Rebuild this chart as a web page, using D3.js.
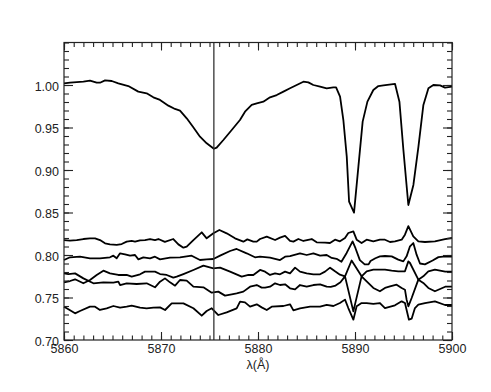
<!DOCTYPE html>
<html>
<head>
<meta charset="utf-8">
<script src="https://cdn.jsdelivr.net/npm/d3@7"></script>
<style>
  body { margin: 0; background: #fff; }
  svg { display: block; }
</style>
</head>
<body>
<svg id="specSVG" width="491" height="392"></svg>
<script>
// tick labels
const xTicks = [5860, 5870, 5880, 5890, 5900];
const yTicks = [0.70, 0.75, 0.80, 0.85, 0.90, 0.95, 1.00];
const xLabel = "λ(Å)";
const markLambda = 5875.45;

// mean spectrum (top)
const topSpec = [
  [5860.0, 1.002], [5860.62, 1.0027], [5861.31, 1.0035], [5862.0, 1.0039], [5862.68, 1.0051],
  [5863.37, 1.0027], [5863.71, 1.0027], [5864.23, 1.0055], [5864.92, 1.0047], [5865.6, 1.002],
  [5866.63, 0.9988], [5867.66, 0.9922], [5868.52, 0.9902], [5869.21, 0.9855], [5869.9, 0.9824],
  [5870.76, 0.9757], [5871.44, 0.9718], [5871.96, 0.9698], [5872.65, 0.9608], [5873.33, 0.9502],
  [5874.02, 0.9392], [5874.71, 0.9314], [5875.45, 0.925], [5875.74, 0.9263], [5876.43, 0.9353],
  [5877.29, 0.9471], [5878.14, 0.9588], [5878.66, 0.9686], [5879.35, 0.9765], [5879.87, 0.9784],
  [5880.55, 0.9804], [5881.24, 0.9855], [5881.93, 0.9882], [5882.62, 0.9922], [5883.3, 0.9961],
  [5883.99, 1.0], [5884.68, 1.0039], [5885.19, 1.0031], [5885.71, 1.0], [5886.4, 0.998],
  [5887.08, 0.9961], [5887.77, 0.9973], [5888.05, 0.9973], [5888.46, 0.9863], [5888.8, 0.9588],
  [5889.15, 0.9157], [5889.39, 0.8627], [5889.9, 0.8498], [5890.35, 0.9039], [5890.79, 0.9569],
  [5891.28, 0.9804], [5891.89, 0.9941], [5892.41, 0.9988], [5892.93, 0.9996], [5894.13, 1.0012],
  [5894.58, 0.9804], [5894.99, 0.9235], [5895.5, 0.8588], [5896.02, 0.8824], [5896.54, 0.9275],
  [5897.05, 0.9765], [5897.57, 0.9961], [5898.08, 1.0], [5898.77, 0.9996], [5899.28, 0.9969],
  [5900.0, 0.998]
];

// offset spectra (bottom group)
const specA = [
  [5860.0, 0.8176], [5860.62, 0.8169], [5861.31, 0.8176], [5862.0, 0.8188], [5862.68, 0.8196],
  [5863.2, 0.8196], [5863.71, 0.8176], [5864.23, 0.8137], [5864.74, 0.8125], [5865.43, 0.8118],
  [5865.95, 0.8129], [5866.46, 0.8157], [5866.98, 0.8165], [5867.32, 0.8157], [5867.84, 0.8172],
  [5868.35, 0.8176], [5868.87, 0.8188], [5869.38, 0.8176], [5869.73, 0.8188], [5870.4, 0.8155],
  [5871.27, 0.8188], [5871.79, 0.8125], [5872.31, 0.8086], [5872.65, 0.8098], [5873.34, 0.8176],
  [5874.2, 0.8267], [5874.71, 0.8196], [5875.4, 0.8255], [5876.02, 0.8294], [5876.77, 0.8255],
  [5877.63, 0.8196], [5878.49, 0.8157], [5878.9, 0.8184], [5879.52, 0.8157], [5879.87, 0.8157],
  [5880.21, 0.8188], [5880.9, 0.8216], [5881.76, 0.8176], [5882.27, 0.8204], [5882.79, 0.8224],
  [5883.3, 0.8165], [5883.65, 0.8157], [5884.16, 0.8188], [5884.68, 0.8165], [5885.54, 0.8188],
  [5886.05, 0.8149], [5886.91, 0.8145], [5887.42, 0.8141], [5887.94, 0.818], [5888.45, 0.8161],
  [5888.97, 0.82], [5889.31, 0.8259], [5889.83, 0.8278], [5890.17, 0.818], [5890.68, 0.8141],
  [5891.2, 0.818], [5891.89, 0.8161], [5892.57, 0.818], [5893.09, 0.818], [5893.61, 0.8153],
  [5894.12, 0.8161], [5894.81, 0.818], [5895.15, 0.8239], [5895.5, 0.834], [5896.01, 0.822],
  [5896.53, 0.8161], [5897.21, 0.8153], [5898.24, 0.8161], [5899.28, 0.8188], [5900.0, 0.82]
];
const specB = [
  [5860.0, 0.7941], [5860.62, 0.7973], [5861.65, 0.798], [5862.68, 0.7961], [5863.71, 0.7961],
  [5864.74, 0.7973], [5865.09, 0.7992], [5865.43, 0.7961], [5865.78, 0.802], [5866.29, 0.8008],
  [5866.81, 0.7992], [5867.32, 0.8], [5867.67, 0.7949], [5868.18, 0.7973], [5868.87, 0.7961],
  [5869.38, 0.798], [5869.9, 0.7949], [5870.93, 0.7969], [5871.96, 0.7973], [5873.16, 0.7992],
  [5874.02, 0.7941], [5874.71, 0.7949], [5875.4, 0.7953], [5876.09, 0.7992], [5877.12, 0.8047],
  [5877.8, 0.8071], [5878.83, 0.802], [5879.69, 0.7973], [5880.21, 0.798], [5881.24, 0.7969],
  [5882.27, 0.7941], [5882.79, 0.798], [5883.3, 0.7988], [5884.33, 0.802], [5885.02, 0.8],
  [5885.71, 0.802], [5886.4, 0.7992], [5887.08, 0.8], [5887.6, 0.7965], [5888.1, 0.7955],
  [5888.6, 0.792], [5889.14, 0.8024], [5889.75, 0.816], [5890.05, 0.808], [5890.5, 0.794],
  [5891.0, 0.789], [5891.4, 0.789], [5891.6, 0.793], [5892.1, 0.7962], [5892.57, 0.7984],
  [5893.09, 0.7988], [5893.78, 0.7984], [5894.46, 0.7945], [5894.98, 0.7925], [5895.32, 0.7984],
  [5895.67, 0.8102], [5896.01, 0.8141], [5896.35, 0.8004], [5896.7, 0.79], [5897.21, 0.789],
  [5898.0, 0.7935], [5898.6, 0.7975], [5899.3, 0.7985], [5900.0, 0.798]
];
const specC = [
  [5860.0, 0.7784], [5860.45, 0.7776], [5861.14, 0.7784], [5862.0, 0.7725], [5863.03, 0.7667],
  [5864.06, 0.7678], [5865.09, 0.7675], [5865.6, 0.7686], [5865.78, 0.7647], [5866.46, 0.7667],
  [5867.49, 0.7659], [5868.52, 0.7667], [5869.38, 0.762], [5869.9, 0.7686], [5870.41, 0.7725],
  [5870.93, 0.7678], [5871.45, 0.7639], [5871.96, 0.7706], [5872.65, 0.7698], [5873.34, 0.7627],
  [5874.37, 0.762], [5875.23, 0.7557], [5875.91, 0.7569], [5876.6, 0.7522], [5877.29, 0.7537],
  [5877.8, 0.7549], [5878.49, 0.7569], [5879.18, 0.7627], [5879.87, 0.7647], [5880.38, 0.7616],
  [5880.73, 0.7616], [5881.24, 0.7627], [5881.76, 0.7667], [5882.27, 0.7647], [5882.79, 0.7655],
  [5883.3, 0.7608], [5883.82, 0.7596], [5884.33, 0.7647], [5885.02, 0.7627], [5885.71, 0.7647],
  [5886.4, 0.7655], [5887.08, 0.7627], [5887.5, 0.7625], [5888.0, 0.764], [5888.5, 0.768],
  [5888.97, 0.7749], [5889.83, 0.7337], [5890.68, 0.7749], [5891.2, 0.769], [5891.89, 0.7612],
  [5892.57, 0.7573], [5893.09, 0.7612], [5893.61, 0.7631], [5894.29, 0.7651], [5894.81, 0.7612],
  [5895.15, 0.7592], [5895.32, 0.7475], [5895.5, 0.7396], [5895.84, 0.7494], [5896.53, 0.771],
  [5897.04, 0.7671], [5897.56, 0.7612], [5898.24, 0.7573], [5899.3, 0.7627], [5900.0, 0.7627]
];
const specD = [
  [5860.0, 0.7678], [5860.62, 0.7694], [5861.14, 0.7714], [5862.0, 0.7667], [5862.68, 0.7706],
  [5863.37, 0.7765], [5864.06, 0.7816], [5864.74, 0.7784], [5865.6, 0.7765], [5866.46, 0.7765],
  [5866.98, 0.7745], [5867.84, 0.7773], [5868.35, 0.7804], [5869.38, 0.7804], [5869.9, 0.7776],
  [5870.59, 0.7765], [5871.27, 0.7733], [5871.62, 0.7745], [5872.31, 0.7776], [5873.34, 0.7824],
  [5874.37, 0.7875], [5875.4, 0.7843], [5876.09, 0.7851], [5877.12, 0.7804], [5878.32, 0.7745],
  [5879.01, 0.7765], [5879.52, 0.7765], [5880.21, 0.7824], [5880.73, 0.7804], [5881.24, 0.7765],
  [5881.76, 0.7784], [5882.27, 0.7773], [5882.79, 0.7804], [5883.3, 0.7784], [5883.82, 0.7851],
  [5884.33, 0.7804], [5885.02, 0.7784], [5885.71, 0.7773], [5886.4, 0.7773], [5886.91, 0.7804],
  [5887.43, 0.7851], [5887.94, 0.7808], [5888.45, 0.7769], [5888.97, 0.7749], [5889.65, 0.7935],
  [5890.68, 0.7749], [5891.2, 0.7808], [5891.89, 0.7827], [5892.57, 0.7827], [5893.09, 0.7827],
  [5893.78, 0.7816], [5894.46, 0.7808], [5895.15, 0.7808], [5895.5, 0.7925], [5895.67, 0.7906],
  [5896.53, 0.771], [5897.04, 0.7749], [5897.56, 0.7808], [5898.24, 0.7827], [5899.3, 0.7804],
  [5900.0, 0.7804]
];
const specE = [
  [5860.0, 0.7392], [5860.28, 0.7373], [5861.14, 0.7314], [5861.65, 0.7341], [5862.68, 0.7392],
  [5863.2, 0.7392], [5863.71, 0.7353], [5864.4, 0.7373], [5865.09, 0.74], [5865.78, 0.738],
  [5866.46, 0.7392], [5866.98, 0.7404], [5867.84, 0.738], [5868.52, 0.7373], [5869.21, 0.738],
  [5869.9, 0.7384], [5870.42, 0.7353], [5871.1, 0.7431], [5872.31, 0.7431], [5873.34, 0.7373],
  [5874.2, 0.7286], [5874.71, 0.7341], [5875.23, 0.7373], [5875.91, 0.7294], [5876.77, 0.7325],
  [5877.8, 0.7373], [5878.15, 0.7451], [5878.66, 0.7443], [5879.18, 0.7392], [5879.87, 0.742],
  [5880.38, 0.7384], [5880.9, 0.7353], [5881.41, 0.7392], [5882.62, 0.74], [5883.3, 0.742],
  [5883.65, 0.7349], [5884.33, 0.7373], [5885.37, 0.7392], [5886.4, 0.7392], [5887.08, 0.7412],
  [5887.77, 0.74], [5888.45, 0.7435], [5888.97, 0.7475], [5889.31, 0.7376], [5889.83, 0.7239],
  [5890.17, 0.7396], [5890.68, 0.7435], [5891.2, 0.7435], [5891.89, 0.7424], [5892.57, 0.7435],
  [5893.09, 0.7376], [5894.12, 0.7408], [5894.81, 0.7455], [5895.15, 0.7435], [5895.56, 0.7239],
  [5895.84, 0.7251], [5896.18, 0.7376], [5896.53, 0.7416], [5897.21, 0.7435], [5898.24, 0.7455],
  [5899.28, 0.7412], [5900.0, 0.7412]
];

const allSpectra = [topSpec, specA, specB, specC, specD, specE];

const svg = d3.select('#specSVG');
const svgWidth = +svg.attr("width");
const svgHeight = +svg.attr("height");

const margin = {top: 42.5, right: 39, bottom: 52, left: 64};
const innerWidth = svgWidth - margin.left - margin.right;
const innerHeight = svgHeight - margin.top - margin.bottom;

const font = "'Liberation Sans', Arial, Helvetica, sans-serif";
const axisColor = "#222";

const xScale = d3.scaleLinear().domain([5860, 5900]).range([0, innerWidth]);
const yScale = d3.scaleLinear().domain([0.70, 1.05]).range([innerHeight, 0]);

const g = svg.append('g').attr('transform', `translate(${margin.left}, ${margin.top})`);

// spectra
const line = d3.line()
               .x(d => xScale(d[0]))
               .y(d => yScale(d[1]));

g.selectAll('.spec')
    .data(allSpectra)
    .join('path')
    .classed('spec', true)
    .attr('d', line)
    .attr('fill', 'none')
    .attr('stroke', '#000')
    .attr('stroke-width', 1.8)
    .attr('stroke-linejoin', 'round');

// He I marker
g.append('line')
    .attr('x1', xScale(markLambda))
    .attr('x2', xScale(markLambda))
    .attr('y1', yScale(0.70))
    .attr('y2', yScale(1.05))
    .attr('stroke', '#333')
    .attr('stroke-width', 1.3);

// axes: ticks point inward, mirrored on top and right
const xMinor = d3.range(5860, 5901, 1);
const yMinor = d3.range(70, 106, 1).map(v => v / 100);

function styleAxis(sel) {
    sel.select('.domain').remove();
    sel.selectAll('line').attr('stroke', axisColor).attr('stroke-width', 1.1);
    sel.selectAll('text')
        .attr('fill', axisColor)
        .attr('font-family', font)
        .attr('font-size', 12.5);
    // unlabeled axes: drop the empty text nodes
    sel.selectAll('text').filter(function() { return this.textContent === ''; }).remove();
}

// bottom
g.append('g').attr('transform', `translate(0, ${innerHeight})`)
    .call(d3.axisBottom(xScale).tickValues(xMinor).tickSize(-4.5).tickFormat(''))
    .call(styleAxis);
g.append('g').attr('transform', `translate(0, ${innerHeight})`)
    .call(d3.axisBottom(xScale).tickValues(xTicks).tickSize(-8).tickPadding(4).tickFormat(d3.format('d')))
    .call(styleAxis);
// top
g.append('g')
    .call(d3.axisTop(xScale).tickValues(xMinor).tickSize(-4.5).tickFormat(''))
    .call(styleAxis);
g.append('g')
    .call(d3.axisTop(xScale).tickValues(xTicks).tickSize(-8).tickFormat(''))
    .call(styleAxis);
// left
g.append('g')
    .call(d3.axisLeft(yScale).tickValues(yMinor).tickSize(-5).tickFormat(''))
    .call(styleAxis);
const yAxis = g.append('g')
    .call(d3.axisLeft(yScale).tickValues(yTicks).tickSize(-9).tickPadding(5).tickFormat(d3.format('.2f')))
    .call(styleAxis);
yAxis.selectAll('text').attr('dy', '0.42em');
// right
g.append('g').attr('transform', `translate(${innerWidth}, 0)`)
    .call(d3.axisRight(yScale).tickValues(yMinor).tickSize(-5).tickFormat(''))
    .call(styleAxis);
g.append('g').attr('transform', `translate(${innerWidth}, 0)`)
    .call(d3.axisRight(yScale).tickValues(yTicks).tickSize(-9).tickFormat(''))
    .call(styleAxis);

// frame
g.append('rect')
    .attr('width', innerWidth)
    .attr('height', innerHeight)
    .attr('fill', 'none')
    .attr('stroke', axisColor)
    .attr('stroke-width', 1.2);

// x title
g.append('text')
    .attr('x', innerWidth / 2)
    .attr('y', innerHeight + 28.5)
    .attr('text-anchor', 'middle')
    .attr('fill', axisColor)
    .attr('font-family', font)
    .attr('font-size', 12.5)
    .text(xLabel);
</script>
</body>
</html>
